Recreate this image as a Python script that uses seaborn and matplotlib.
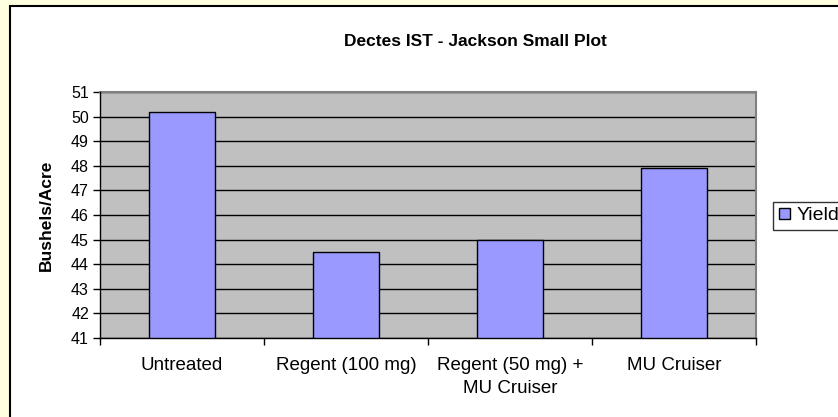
import matplotlib
matplotlib.use("Agg")
import matplotlib.pyplot as plt
import matplotlib.patches as mpatches
import seaborn as sns
import numpy as np

categories = ["Untreated", "Regent (100 mg)", "Regent (50 mg) +\nMU Cruiser", "MU Cruiser"]
yield_values = [50.2, 44.5, 45.0, 47.9]
series_name = "Yield"
y_ticks = list(range(41, 52))

sns.set_style("white")
plt.rcParams['font.family'] = ['Liberation Sans', 'DejaVu Sans']
plt.rcParams['text.color'] = 'black'
plt.rcParams['xtick.color'] = 'black'
plt.rcParams['ytick.color'] = 'black'
plt.rcParams['axes.labelcolor'] = 'black'

W, H = 838, 417
fig = plt.figure(figsize=(W / 100, H / 100), dpi=100)
fig.patch.set_facecolor("#FFFFE0")

# white chart area with black border
fig.patches.append(mpatches.Rectangle((10 / W, -0.1), 1.2, 1 - 6 / H + 0.1,
                                      transform=fig.transFigure, facecolor="white",
                                      edgecolor="black", linewidth=1.5, zorder=-5))

ax = fig.add_axes([100 / W, 1 - 338 / H, (756 - 100) / W, (338 - 92) / H])
ax.set_facecolor("#C0C0C0")

sns.barplot(x=categories, y=yield_values, ax=ax, color="#9999FF", width=0.4,
            edgecolor="black", linewidth=1, saturation=1, zorder=3)

ax.set_ylim(41, 51)
ax.set_yticks(y_ticks)
ax.set_xlim(-0.5, len(categories) - 0.5)
ax.yaxis.grid(True, color="black", linewidth=1)
ax.set_axisbelow(True)
for b in ax.patches:
    b.set_zorder(3)

for s in ["top", "right"]:
    ax.spines[s].set_color("#808080")
    ax.spines[s].set_linewidth(1.5)
for s in ["left", "bottom"]:
    ax.spines[s].set_color("black")
    ax.spines[s].set_linewidth(1)
    ax.spines[s].set_zorder(4)

ax.tick_params(axis="y", which="major", direction="out", length=5, width=1,
               color="black", labelsize=11.5, pad=3, left=True)
ax.tick_params(axis="x", which="major", length=0, labelsize=13.5, pad=14)
ax.set_xticks(np.arange(-0.5, len(categories), 1.0), minor=True)
ax.tick_params(axis="x", which="minor", direction="out", length=5, width=1,
               color="black", bottom=True)
for lbl in ax.get_xticklabels():
    lbl.set_linespacing(1.45)
    lbl.set_va("top")

ax.set_xlabel("")
ax.set_ylabel("Bushels/Acre", fontsize=12.5, fontweight="bold")
ax.yaxis.set_label_coords(-(100 - 54) / 656, 0.5)

fig.text(475 / W, 1 - 41 / H, "Dectes IST - Jackson Small Plot", ha="center",
         va="center", fontsize=12.5, fontweight="bold")

handle = mpatches.Patch(facecolor="#9999FF", edgecolor="black", linewidth=1)
leg = fig.legend([handle], [series_name], loc="center left",
                 bbox_to_anchor=(773 / W, 1 - 216 / H), fontsize=14,
                 frameon=True, fancybox=False, handlelength=0.55, handleheight=0.55,
                 handletextpad=0.35, borderpad=0.3, borderaxespad=0)
leg.get_frame().set_edgecolor("black")
leg.get_frame().set_linewidth(1)

fig.savefig("out.png", dpi=100, facecolor=fig.get_facecolor())
